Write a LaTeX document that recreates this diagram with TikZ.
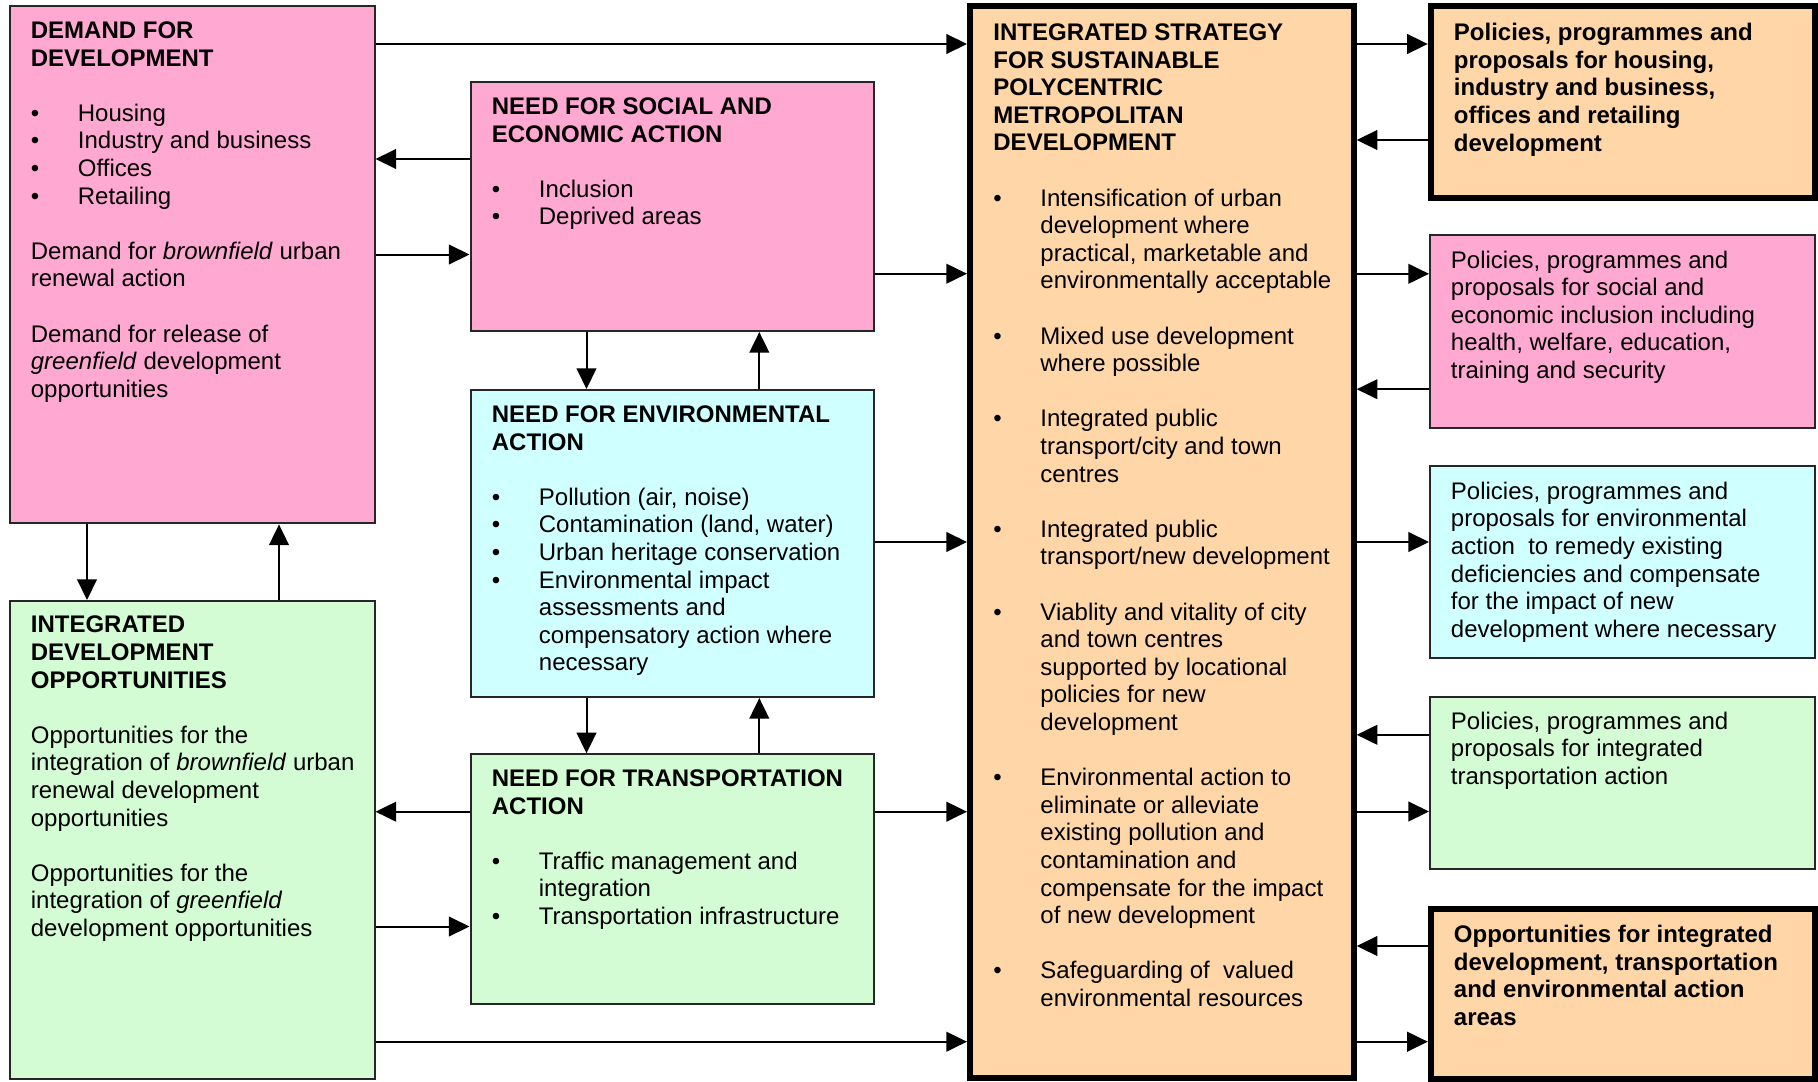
\documentclass[tikz,border=0pt]{standalone}
\usepackage{fontspec}
\setmainfont{Liberation Sans}
\usetikzlibrary{arrows.meta,fit}
\definecolor{cpink}{RGB}{255,168,210}
\definecolor{ccyan}{RGB}{208,255,255}
\definecolor{cgreen}{RGB}{212,252,212}
\definecolor{corange}{RGB}{255,214,168}
\newcommand\bl{\makebox[23.5pt][l]{•}}
\newcommand\ind{\hspace*{23.5pt}}
\newcommand\fl{\rule{0pt}{10pt}}
\begin{document}
\begin{tikzpicture}[x=0.5pt,y=-0.5pt,
  box/.style={draw=black!85,line width=1pt,inner sep=0pt,rectangle},
  thickbox/.style={draw=black,line width=3pt,inner sep=0pt,rectangle},
  txt/.style={anchor=north west,inner sep=0pt,align=left,font=\fontsize{12pt}{13.8pt}\selectfont},
  arr/.style={line width=1pt,-{Triangle[length=10.3pt,width=9.8pt]}}]
\useasboundingbox (0,0) rectangle (1818,1081);

% boxes
\node[box,fill=cpink,fit={(9.5,5.7)(374.5,523.4)}] (dem) {};
\node[box,fill=cpink,fit={(470.5,82.5)(874,331)}] (soc) {};
\node[box,fill=ccyan,fit={(470.5,390)(874,697)}] (env) {};
\node[box,fill=cgreen,fit={(470.5,754.3)(874,1003.7)}] (trn) {};
\node[box,fill=cgreen,fit={(9.5,601)(374.5,1079)}] (ido) {};
\node[thickbox,fill=corange,fit={(970,6.5)(1353.7,1077.5)}] (str) {};
\node[thickbox,fill=corange,fit={(1430.8,6)(1815.3,197.5)}] (r1) {};
\node[box,fill=cpink,fit={(1430,235.2)(1815,428)}] (r2) {};
\node[box,fill=ccyan,fit={(1430,465.6)(1815,658.4)}] (r3) {};
\node[box,fill=cgreen,fit={(1430,697)(1815,868.8)}] (r4) {};
\node[thickbox,fill=corange,fit={(1430.8,909.3)(1815.3,1078.5)}] (r5) {};

% texts
\node[txt] (demT) at (30.5,18) {\fl\textbf{DEMAND FOR}\\\textbf{DEVELOPMENT}\\[13.8pt]%
\bl Housing\\\bl Industry and business\\\bl Offices\\\bl Retailing\\[13.8pt]%
Demand for \textit{brownfield} urban\\renewal action\\[13.8pt]%
Demand for release of\\\textit{greenfield} development\\opportunities};

\node[txt] (socT) at (491.5,94) {\fl\textbf{NEED FOR SOCIAL AND}\\\textbf{ECONOMIC ACTION}\\[13.8pt]%
\bl Inclusion\\\bl Deprived areas};

\node[txt] (envT) at (491.5,402) {\fl\textbf{NEED FOR ENVIRONMENTAL}\\\textbf{ACTION}\\[13.8pt]%
\bl Pollution (air, noise)\\\bl Contamination (land, water)\\\bl Urban heritage conservation\\%
\bl Environmental impact\\\ind assessments and\\\ind compensatory action where\\\ind necessary};

\node[txt] (trnT) at (491.5,766) {\fl\textbf{NEED FOR TRANSPORTATION}\\\textbf{ACTION}\\[13.8pt]%
\bl Traffic management and\\\ind integration\\\bl Transportation infrastructure};

\node[txt] (idoT) at (30.5,612.5) {\fl\textbf{INTEGRATED}\\\textbf{DEVELOPMENT}\\\textbf{OPPORTUNITIES}\\[13.8pt]%
Opportunities for the\\integration of \textit{brownfield} urban\\renewal development\\opportunities\\[13.8pt]%
Opportunities for the\\integration of \textit{greenfield}\\development opportunities};

\node[txt] (strT) at (993,20) {\fl\textbf{INTEGRATED STRATEGY}\\\textbf{FOR SUSTAINABLE}\\\textbf{POLYCENTRIC}\\\textbf{METROPOLITAN}\\\textbf{DEVELOPMENT}\\[13.8pt]%
\bl Intensification of urban\\\ind development where\\\ind practical, marketable and\\\ind environmentally acceptable\\[13.8pt]%
\bl Mixed use development\\\ind where possible\\[13.8pt]%
\bl Integrated public\\\ind transport/city and town\\\ind centres\\[13.8pt]%
\bl Integrated public\\\ind transport/new development\\[13.8pt]%
\bl Viablity and vitality of city\\\ind and town centres\\\ind supported by locational\\\ind policies for new\\\ind development\\[13.8pt]%
\bl Environmental action to\\\ind eliminate or alleviate\\\ind existing pollution and\\\ind contamination and\\\ind compensate for the impact\\\ind of new development\\[13.8pt]%
\bl Safeguarding of\ \ valued\\\ind environmental resources};

\node[txt,font=\fontsize{12pt}{13.8pt}\selectfont\bfseries] (r1T) at (1453.5,20.3) {\fl Policies, programmes and\\proposals for housing,\\industry and business,\\offices and retailing\\development};
\node[txt] (r2T) at (1450.5,247.6) {\fl Policies, programmes and\\proposals for social and\\economic inclusion including\\health, welfare, education,\\training and security};
\node[txt] (r3T) at (1450.5,478.8) {\fl Policies, programmes and\\proposals for environmental\\action\ \ to remedy existing\\deficiencies and compensate\\for the impact of new\\development where necessary};
\node[txt] (r4T) at (1450.5,708.8) {\fl Policies, programmes and\\proposals for integrated\\transportation action};
\node[txt,font=\fontsize{12pt}{13.8pt}\selectfont\bfseries] (r5T) at (1453.5,922) {\fl Opportunities for integrated\\development, transportation\\and environmental action\\areas};

% connectors
\draw[arr] (dem.east |- 0,44) -- (str.west |- 0,44);
\draw[arr] (soc.west |- 0,159) -- (dem.east |- 0,159);
\draw[arr] (dem.east |- 0,254.5) -- (soc.west |- 0,254.5);
\draw[arr] (soc.east |- 0,273.7) -- (str.west |- 0,273.7);
\draw[arr] (soc.south -| 586.5,0) -- (env.north -| 586.5,0);
\draw[arr] (env.north -| 759.3,0) -- (soc.south -| 759.3,0);
\draw[arr] (env.east |- 0,542) -- (str.west |- 0,542);
\draw[arr] (env.south -| 586.5,0) -- (trn.north -| 586.5,0);
\draw[arr] (trn.north -| 759.3,0) -- (env.south -| 759.3,0);
\draw[arr] (dem.south -| 87,0) -- (ido.north -| 87,0);
\draw[arr] (ido.north -| 279,0) -- (dem.south -| 279,0);
\draw[arr] (trn.west |- 0,811.7) -- (ido.east |- 0,811.7);
\draw[arr] (ido.east |- 0,926.5) -- (trn.west |- 0,926.5);
\draw[arr] (trn.east |- 0,811.7) -- (str.west |- 0,811.7);
\draw[arr] (ido.east |- 0,1041.7) -- (str.west |- 0,1041.7);
\draw[arr] (str.east |- 0,44) -- (r1.west |- 0,44);
\draw[arr] (r1.west |- 0,140) -- (str.east |- 0,140);
\draw[arr] (str.east |- 0,273.8) -- (r2.west |- 0,273.8);
\draw[arr] (r2.west |- 0,389.2) -- (str.east |- 0,389.2);
\draw[arr] (str.east |- 0,542) -- (r3.west |- 0,542);
\draw[arr] (r4.west |- 0,734.8) -- (str.east |- 0,734.8);
\draw[arr] (str.east |- 0,811.5) -- (r4.west |- 0,811.5);
\draw[arr] (r5.west |- 0,946) -- (str.east |- 0,946);
\draw[arr] (str.east |- 0,1041.7) -- (r5.west |- 0,1041.7);
\end{tikzpicture}
\end{document}
